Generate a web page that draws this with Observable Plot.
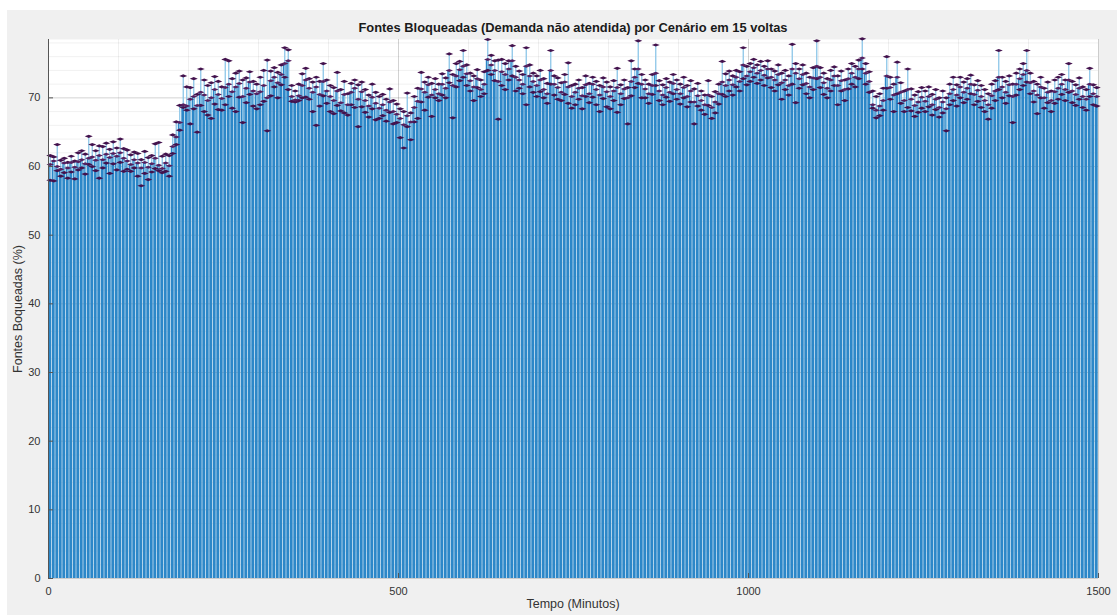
<!DOCTYPE html>
<html>
<head>
<meta charset="utf-8">
<script src="https://cdn.jsdelivr.net/npm/d3@7"></script>
<script src="https://cdn.jsdelivr.net/npm/@observablehq/plot@0.6"></script>
<style>
  html, body { margin: 0; padding: 0; background: #ffffff; }
  #page { position: relative; width: 1117px; height: 615px; overflow: hidden; background: #ffffff;
          font-family: "Liberation Sans", Arial, sans-serif; }
  #fig { position: absolute; left: 7px; top: 10px; width: 1110px; height: 605px; background: #f0f0f0; }
  #title { position: absolute; left: 48px; width: 1050px; top: 20px; text-align: center;
           font-weight: bold; font-size: 12.9px; color: #1a1a1a; white-space: nowrap; }
  #chart { position: absolute; left: 0; top: 35px; }
  #ylabel { position: absolute; left: 18px; top: 309px; width: 0; height: 0; }
  #ylabel span { position: absolute; transform: translate(-50%, -50%) rotate(-90deg);
                 white-space: nowrap; font-size: 12.5px; color: #333333; line-height: 14px; }
  #xlabel { position: absolute; left: 48px; width: 1050px; top: 597px; text-align: center;
            font-size: 12.5px; color: #333333; line-height: 14px; white-space: nowrap; }
</style>
</head>
<body>
<div id="page">
  <div id="fig"></div>
  <div id="title">Fontes Bloqueadas (Demanda não atendida) por Cenário em 15 voltas</div>
  <div id="chart"></div>
  <div id="ylabel"><span>Fontes Boqueadas (%)</span></div>
  <div id="xlabel">Tempo (Minutos)</div>
</div>
<script>
// Time of each bar (minutes, bar centres, 5-minute bins)
const tempo = d3.range(2.5, 1500, 5);

// Mean % of blocked sources (bar heights)
const media = [
  60.3,60.8,60.0,59.6,60.5,59.8,60.6,59.9,60.7,61.0,
  60.4,61.2,61.4,60.9,61.6,61.0,61.8,61.3,61.9,61.5,
  62.0,61.2,60.8,60.3,61.0,60.5,59.8,60.6,59.9,60.4,
  61.2,60.2,59.7,60.5,60.1,62.9,64.3,66.4,69.0,68.8,
  69.8,70.2,68.9,70.8,70.4,69.6,70.0,71.2,70.5,69.9,
  71.5,72.0,70.9,71.6,72.1,70.2,71.4,72.3,71.0,70.6,
  70.9,71.8,70.0,72.5,73.0,72.2,73.4,75.0,75.4,70.2,
  69.7,70.3,71.8,72.6,71.4,70.8,71.6,70.5,72.4,71.0,
  70.2,69.6,71.0,69.3,70.5,69.0,70.8,71.4,69.8,70.9,
  69.6,68.8,70.1,69.2,68.5,69.0,68.2,69.4,68.0,67.6,
  67.0,66.1,67.4,66.5,68.6,69.5,71.3,70.8,71.9,70.4,
  71.2,70.6,72.0,71.4,74.0,71.8,73.2,74.1,74.6,73.5,
  72.5,71.6,72.8,71.2,72.0,75.6,74.8,74.0,72.4,73.8,
  73.4,74.2,75.4,73.0,72.6,72.0,74.6,73.2,72.4,71.8,
  72.6,71.2,70.6,74.0,72.0,71.5,70.8,72.3,71.6,70.2,
  70.8,71.4,70.3,71.9,70.6,72.0,71.2,70.4,71.6,70.9,
  70.2,71.0,71.5,70.6,71.3,70.0,72.4,73.0,74.2,72.0,
  71.3,70.6,71.8,73.6,71.0,70.4,71.5,70.8,72.1,71.2,
  70.6,71.5,70.2,71.0,69.4,70.3,69.6,69.0,70.4,68.6,
  69.4,70.6,72.3,71.8,72.6,71.9,73.0,72.4,74.8,73.2,
  73.8,74.4,73.6,74.0,73.3,74.2,73.0,72.6,73.4,72.2,
  72.6,71.8,74.2,73.6,72.8,73.4,72.1,71.6,72.9,74.6,
  73.0,72.2,71.4,72.6,73.2,71.8,72.5,71.2,72.8,73.6,
  73.0,74.2,75.8,73.6,72.4,69.0,68.2,68.8,69.6,73.2,
  71.5,70.4,73.0,70.8,69.6,71.2,69.8,68.9,69.4,70.1,
  69.5,70.2,69.0,69.8,68.6,69.4,68.4,70.6,71.2,70.4,
  71.6,70.8,71.4,72.0,70.5,71.1,70.2,69.6,69.0,70.3,
  71.0,73.0,71.6,70.8,71.9,70.2,72.0,72.8,73.4,74.0,
  72.2,71.0,70.4,71.6,70.0,70.8,69.6,70.9,71.4,72.0,
  71.2,72.6,71.0,70.5,71.4,70.2,69.8,72.0,70.6,70.2
];

// Upper end of each error bar
const superior = [
  61.6,61.4,63.2,60.9,61.2,60.6,61.5,60.8,62.0,62.3,
  61.8,64.4,63.2,62.3,63.0,62.9,63.4,62.5,63.6,62.7,
  64.0,62.6,62.4,61.7,62.1,61.9,61.0,62.2,61.3,61.6,
  63.3,63.5,61.5,61.8,61.6,64.6,66.5,68.9,73.2,71.6,
  71.5,72.8,70.5,74.2,72.6,71.8,72.2,73.1,72.4,71.6,
  75.6,75.4,72.8,73.6,73.9,72.6,72.9,73.8,72.4,72.0,
  73.0,74.0,75.5,73.9,74.4,73.7,74.8,77.3,77.0,71.8,
  71.0,72.0,73.5,74.3,72.8,72.3,73.0,72.4,75.0,72.6,
  71.8,71.5,73.7,71.2,72.4,70.6,72.1,72.6,71.9,72.3,
  71.2,70.4,72.0,70.8,70.2,70.5,69.8,71.3,69.6,69.1,
  68.4,68.0,70.7,67.8,70.2,71.4,73.7,72.3,73.0,72.1,
  72.8,72.0,73.5,72.9,76.4,73.4,75.0,75.3,76.9,74.8,
  73.6,73.2,74.1,72.6,73.8,78.5,76.2,75.4,75.5,75.6,
  75.0,75.4,77.6,74.6,73.9,73.4,77.3,74.8,73.6,73.2,
  74.0,72.8,72.1,76.9,73.2,72.9,72.2,73.4,75.1,71.8,
  72.0,72.6,71.5,73.2,72.1,73.0,72.4,71.8,72.9,72.3,
  71.6,72.5,74.3,71.9,72.6,71.5,75.4,74.2,78.3,73.4,
  72.6,72.0,73.4,77.7,72.5,71.9,72.8,72.3,73.4,72.6,
  72.0,73.0,71.8,72.5,71.3,72.1,71.0,70.4,72.5,70.2,
  70.9,72.0,75.3,73.5,73.9,73.2,74.0,73.8,77.3,74.6,
  75.0,75.6,74.8,75.3,74.6,75.4,74.2,73.9,74.8,73.6,
  74.0,73.2,77.8,75.0,74.2,74.8,73.6,73.0,74.4,78.3,
  74.4,73.6,72.8,74.0,74.5,73.2,73.9,72.6,74.2,75.0,
  74.6,75.5,78.6,75.0,73.8,71.0,70.2,70.6,71.4,76.0,
  73.0,72.0,75.2,72.2,71.0,74.2,71.3,70.4,70.9,71.5,
  71.0,71.6,70.5,71.2,70.0,71.0,70.0,72.0,73.0,71.9,
  73.0,72.3,72.8,73.3,71.9,72.5,71.8,71.2,70.6,72.0,
  72.5,76.9,73.0,72.4,73.2,72.0,73.6,74.2,75.0,76.9,
  73.6,72.4,72.0,73.0,71.4,72.3,71.0,72.6,73.0,73.4,
  72.6,75.0,72.4,71.9,72.9,71.6,71.2,74.3,71.9,71.5
];

// Lower end of each error bar
const inferior = [
  58.0,57.9,59.4,58.6,59.1,58.3,59.2,58.2,59.5,59.8,
  58.9,60.3,60.0,59.4,58.3,59.8,60.5,59.0,60.4,59.5,
  60.6,59.3,59.6,59.3,59.8,58.6,57.2,59.0,58.1,59.2,
  59.7,59.4,59.1,59.3,58.6,61.9,63.2,65.3,68.6,68.2,
  66.2,68.4,65.0,68.9,68.0,67.5,67.0,69.1,68.3,68.2,
  69.0,70.2,68.5,68.0,70.1,66.4,69.3,70.5,68.8,68.4,
  69.0,69.5,65.2,70.3,71.6,70.0,71.9,73.0,71.2,69.5,
  69.4,69.6,70.0,70.1,69.8,68.0,66.0,68.8,70.3,69.2,
  68.0,67.7,68.9,68.1,67.8,67.5,69.0,68.6,65.8,68.7,
  67.9,67.2,68.4,66.8,67.0,67.4,66.6,67.9,66.2,66.4,
  64.2,62.7,65.8,63.9,66.5,67.0,69.4,68.2,70.1,67.3,
  70.0,69.6,70.4,70.0,72.2,67.1,71.6,72.5,73.0,71.8,
  71.0,69.6,71.5,70.2,70.6,74.0,73.4,72.5,66.9,71.8,
  71.2,72.6,73.2,71.0,71.4,70.6,69.0,71.6,70.8,70.2,
  70.9,70.0,69.2,72.0,70.4,69.8,69.6,70.5,69.2,68.5,
  69.0,69.8,68.4,70.2,69.3,70.1,69.0,68.0,69.9,68.7,
  68.4,69.6,67.9,69.0,69.9,66.2,70.3,71.5,72.1,70.0,
  70.0,69.2,70.5,71.8,69.6,69.0,70.1,69.5,70.6,69.8,
  69.1,70.0,68.7,69.4,66.2,68.8,68.2,67.6,68.9,67.0,
  67.8,69.1,70.5,70.2,71.0,70.4,71.6,71.0,72.8,71.9,
  72.4,73.0,72.1,72.6,71.8,72.9,71.5,71.0,71.9,69.8,
  71.2,70.4,72.0,69.3,71.4,71.9,70.6,70.0,71.2,72.8,
  71.5,70.5,70.0,71.0,71.8,69.0,71.0,69.6,71.3,72.0,
  71.6,72.8,74.2,72.0,70.8,68.5,67.1,67.4,68.2,71.4,
  69.8,68.0,70.6,69.2,68.0,68.6,68.1,67.3,67.9,68.5,
  68.0,68.7,67.5,68.3,67.2,67.8,65.2,69.0,69.6,68.8,
  70.0,69.3,69.8,70.6,69.0,69.5,68.6,68.0,66.9,68.5,
  69.6,71.2,70.0,69.2,70.3,66.4,70.4,71.2,71.8,72.3,
  70.6,69.4,67.7,70.0,68.5,69.3,68.0,69.2,69.8,70.5,
  69.6,70.8,69.3,68.9,69.8,68.6,68.2,70.2,69.0,68.8
];

const yTicks = [0, 10, 20, 30, 40, 50, 60, 70];
const xTicks = [0, 500, 1000, 1500];
const yMinorGrid = d3.range(0, 79, 2);
const xMinorGrid = d3.range(0, 1501, 100);

const data = tempo.map((t, i) => ({ t, media: media[i], hi: superior[i], lo: inferior[i] }));

// flattened-diamond cap marker
const capSymbol = {
  draw(ctx, size) {
    const r = Math.sqrt(size / Math.PI);
    ctx.moveTo(-r * 1.25, 0);
    ctx.lineTo(0, -r * 0.5);
    ctx.lineTo(r * 1.25, 0);
    ctx.lineTo(0, r * 0.5);
    ctx.closePath();
  }
};

const chart = Plot.plot({
  width: 1117,
  height: 580,
  marginLeft: 48,
  marginRight: 19,
  marginTop: 4,
  marginBottom: 37,
  style: { fontFamily: "'Liberation Sans', Arial, sans-serif", fontSize: "11px", color: "#333333", background: "transparent" },
  x: { domain: [0, 1500] },
  y: { domain: [0, 78.5] },
  marks: [
    Plot.frame({ fill: "#ffffff", stroke: "none" }),
    Plot.gridY(yMinorGrid, { stroke: "#000", strokeOpacity: 0.06 }),
    Plot.gridY(yTicks, { stroke: "#000", strokeOpacity: 0.12 }),
    Plot.gridX(xMinorGrid, { stroke: "#000", strokeOpacity: 0.06 }),
    Plot.gridX(xTicks, { stroke: "#000", strokeOpacity: 0.12 }),
    Plot.rectY(data, { x: "t", interval: 5, y: "media", fill: "#2c87c8", insetLeft: 0.3, insetRight: 0.3 }),
    Plot.ruleX(data, { x: "t", y1: "lo", y2: "hi", stroke: "#8cc6e8", strokeWidth: 1.3 }),
    Plot.dot(data, { x: "t", y: "hi", symbol: capSymbol, r: 3.2, fill: "#43124d", stroke: "none" }),
    Plot.dot(data, { x: "t", y: "lo", symbol: capSymbol, r: 3.2, fill: "#43124d", stroke: "none" }),
    Plot.dot(data, { x: "t", y: "media", symbol: capSymbol, r: 3.0, fill: "#55205f", stroke: "none" }),
    Plot.ruleX([0], { stroke: "#555555" }),
    Plot.axisY({ ticks: yTicks, tickSize: -5, tickPadding: 13, stroke: "#555555", tickFormat: d => String(d),
                 label: null, fontSize: 11 }),
    Plot.axisX({ ticks: xTicks, tickSize: -5, tickPadding: 14, stroke: "#555555", tickFormat: d => String(d),
                 label: null, fontSize: 11 })
  ]
});

document.getElementById("chart").appendChild(chart);
</script>
</body>
</html>
